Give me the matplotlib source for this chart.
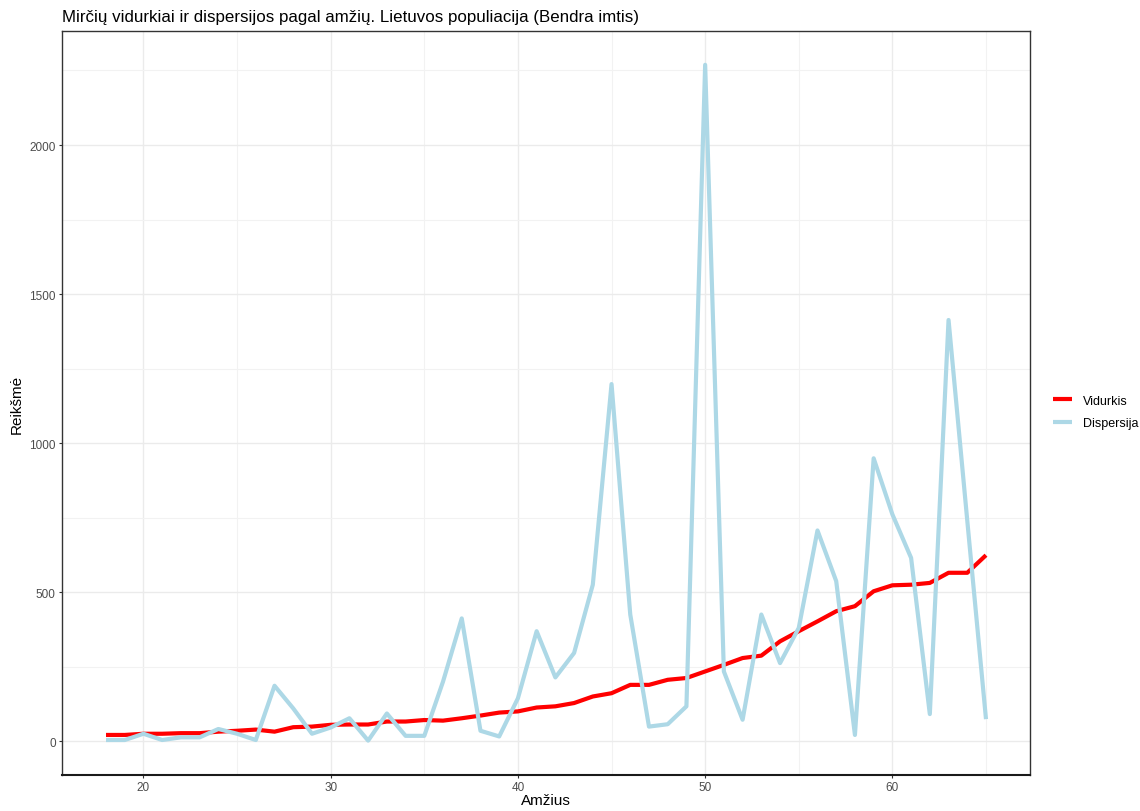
import matplotlib

matplotlib.use("Agg")
from matplotlib import pyplot as plt
from matplotlib.ticker import MultipleLocator

plt.rcParams["font.family"] = ["Liberation Sans", "DejaVu Sans"]

ages = list(range(18, 66))
means = [
    21, 21, 25, 25, 27, 27, 32, 35, 39, 32,
    47, 49, 55, 56, 56, 66, 66, 71, 69, 77,
    86, 96, 100, 113, 117, 128, 150, 161, 189, 189,
    206, 212, 234, 256, 279, 287, 335, 369, 402, 436,
    453, 503, 523, 525, 531, 565, 565, 624,
]
variances = [
    4, 4, 25, 4, 13, 13, 41, 25, 4, 186,
    110, 25, 46, 77, 2, 93, 18, 18, 200, 412,
    35, 16, 144, 369, 214, 296, 525, 1198, 425, 49,
    57, 117, 2269, 234, 72, 425, 262, 380, 707, 537,
    21, 949, 761, 615, 91, 1413, 740, 74,
]

figure = plt.figure(figsize=(11.4, 8.12), dpi=100)
axis = figure.add_axes([0.0544, 0.0443, 0.8491, 0.9163])

axis.plot(ages, means, color="#FF0000", linewidth=3.0, label="Vidurkis",
          solid_capstyle="butt")
axis.plot(ages, variances, color="#ADD8E6", linewidth=3.0, label="Dispersija",
          solid_capstyle="butt")

span_x = max(ages) - min(ages)
axis.set_xlim(min(ages) - 0.05 * span_x, max(ages) + 0.05 * span_x)
top = max(variances)
axis.set_ylim(-0.05 * top, top * 1.05)

axis.xaxis.set_major_locator(MultipleLocator(10))
axis.xaxis.set_minor_locator(MultipleLocator(5))
axis.yaxis.set_major_locator(MultipleLocator(500))
axis.yaxis.set_minor_locator(MultipleLocator(250))
axis.grid(which="major", color="#EBEBEB", linewidth=1.0)
axis.grid(which="minor", color="#F2F2F2", linewidth=0.8)
axis.set_axisbelow(True)

axis.tick_params(which="major", length=2.5, width=0.8, color="#333333",
                 labelsize=8.5, labelcolor="#4D4D4D", pad=2)
axis.tick_params(which="minor", length=0)
for spine in axis.spines.values():
    spine.set_color("#333333")
    spine.set_linewidth(1.0)
axis.spines["bottom"].set_color("#1A1A1A")
axis.spines["bottom"].set_linewidth(1.5)

axis.set_xlabel("Amžius", fontsize=11, color="black", labelpad=0)
axis.set_ylabel("Reikšmė", fontsize=11, color="black", labelpad=4)
figure.text(0.0544, 0.979, "Mirčių vidurkiai ir dispersijos pagal amžių. Lietuvos populiacija (Bendra imtis)",
            fontsize=12.2, ha="left", va="center")

legend = axis.legend(loc="center left", bbox_to_anchor=(1.012, 0.488),
                     frameon=False, fontsize=9, handlelength=1.5,
                     handletextpad=0.9, labelspacing=0.85)

figure.savefig("out.png", dpi=100)
